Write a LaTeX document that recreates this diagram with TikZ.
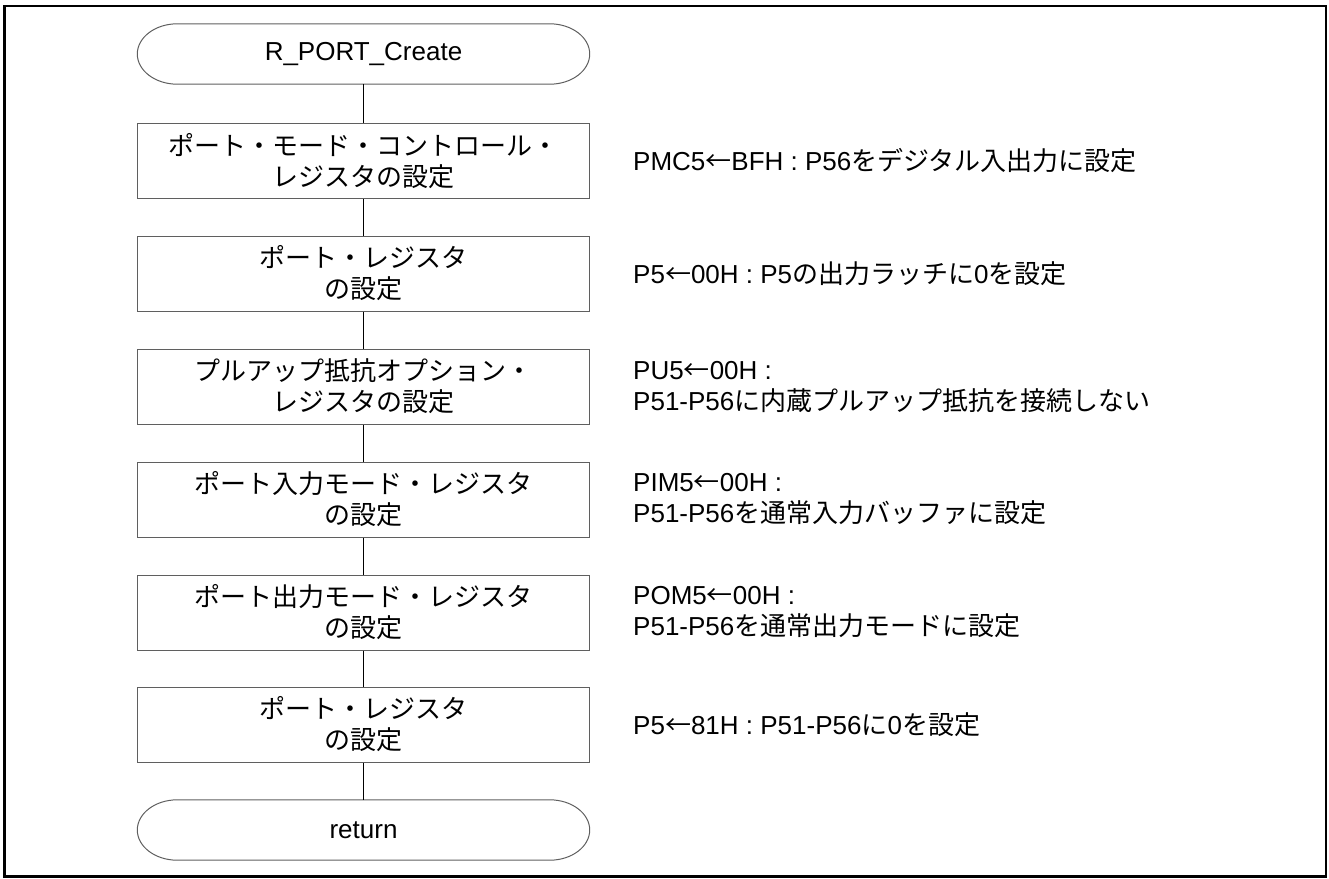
\documentclass[tikz,border=0pt]{standalone}
\usepackage{fontspec}
\setmainfont{Liberation Sans}
\newfontfamily\cjk{Noto Sans CJK JP}
\newcommand\J[1]{{\cjk #1}}
\newcommand\fs{\fontsize{26}{31}\selectfont}
\usetikzlibrary{calc}
\definecolor{boxgray}{RGB}{95,95,95}
\newcommand\drawterm[1]{%
  \draw[termline] ($(#1.north west)+(40,0)$) -- ($(#1.north east)+(-40,0)$)
    .. controls ($(#1.north east)+(-17.9,0)$) and ($(#1.east)+(0,-16.6)$) .. (#1.east)
    .. controls ($(#1.east)+(0,16.6)$) and ($(#1.south east)+(-17.9,0)$) .. ($(#1.south east)+(-40,0)$)
    -- ($(#1.south west)+(40,0)$)
    .. controls ($(#1.south west)+(17.9,0)$) and ($(#1.west)+(0,16.6)$) .. (#1.west)
    .. controls ($(#1.west)+(0,-16.6)$) and ($(#1.north west)+(17.9,0)$) .. cycle;}
\begin{document}
\begin{tikzpicture}[x=1pt,y=-1pt,
  box/.style={draw=boxgray, line width=1pt, minimum width=452pt, minimum height=75pt, align=center, inner sep=0pt, font=\fs},
  term/.style={minimum width=452pt, minimum height=60pt, inner sep=0pt, font=\fs},
  note/.style={anchor=west, align=left, inner sep=0pt, font=\fs},
  conn/.style={line width=1.2pt, black},
  termline/.style={draw=boxgray, line width=1pt}]
\useasboundingbox (0,0) rectangle (1329,878);
\draw[line width=2.5pt, black] (4.5,6) rectangle (1326,876.5);

\node[term] (s) at (363.5,54) {R\_PORT\_Create};
\node[box] (b1) at (363.5,161) {\J{ポート・モード・コントロール・}\\\J{レジスタの設定}};
\node[box] (b2) at (363.5,273.5) {\J{ポート・レジスタ}\\\J{の設定}};
\node[box] (b3) at (363.5,386.5) {\J{プルアップ抵抗オプション・}\\\J{レジスタの設定}};
\node[box] (b4) at (363.5,499.5) {\J{ポート入力モード・レジスタ}\\\J{の設定}};
\node[box] (b5) at (363.5,612.5) {\J{ポート出力モード・レジスタ}\\\J{の設定}};
\node[box] (b6) at (363.5,724.5) {\J{ポート・レジスタ}\\\J{の設定}};
\node[term] (r) at (363.5,830) {return};

\drawterm{s}
\drawterm{r}

\draw[conn] (s.south) -- (b1.north);
\draw[conn] (b1.south) -- (b2.north);
\draw[conn] (b2.south) -- (b3.north);
\draw[conn] (b3.south) -- (b4.north);
\draw[conn] (b4.south) -- (b5.north);
\draw[conn] (b5.south) -- (b6.north);
\draw[conn] (b6.south) -- (r.north);

\node[note] (n1) at (633,161) {PMC5\J{←}BFH : P56\J{をデジタル入出力に設定}};
\node[note] (n2) at (633,273.5) {P5\J{←}00H : P5\J{の出力ラッチに}0\J{を設定}};
\node[note] (n3) at (633,386.5) {PU5\J{←}00H :\\P51-P56\J{に内蔵プルアップ抵抗を接続しない}};
\node[note] (n4) at (633,499.5) {PIM5\J{←}00H :\\P51-P56\J{を通常入力バッファに設定}};
\node[note] (n5) at (633,612.5) {POM5\J{←}00H :\\P51-P56\J{を通常出力モードに設定}};
\node[note] (n6) at (633,724.5) {P5\J{←}81H : P51-P56\J{に}0\J{を設定}};
\end{tikzpicture}
\end{document}
